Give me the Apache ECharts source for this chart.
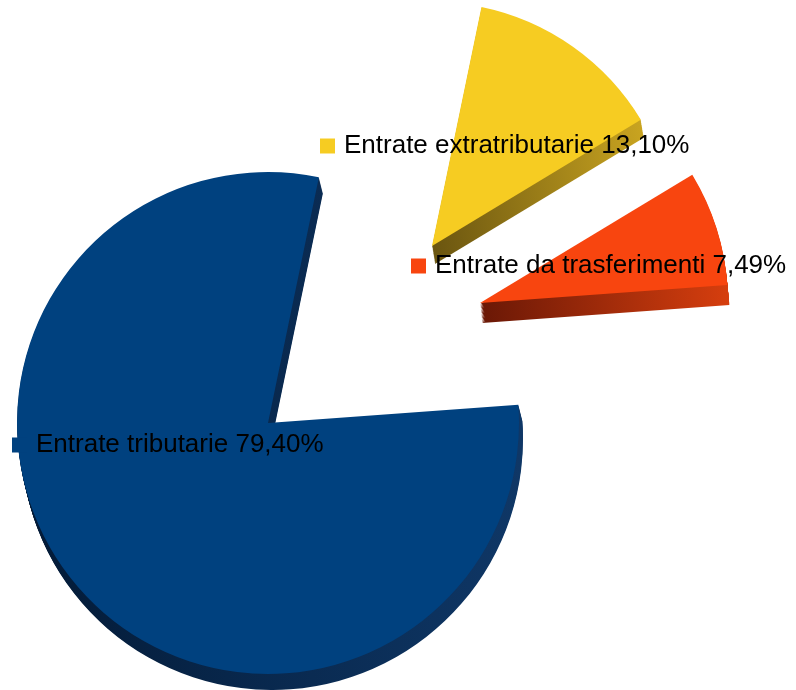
<!DOCTYPE html>
<html>
<head>
<meta charset="utf-8">
<script src="https://cdn.jsdelivr.net/npm/echarts@6/dist/echarts.min.js"></script>
<style>
html, body { margin: 0; padding: 0; background: #fff; }
#chart { width: 796px; height: 690px; }
</style>
</head>
<body>
<div id="chart"></div>
<script>
// dati
const categories = ['Entrate extratributarie', 'Entrate da trasferimenti', 'Entrate tributarie'];
const values = [13.10, 7.49, 79.40];

// aspetto (colori, posizioni delle fette esplose)
const topColors = ['#f6cc22', '#f8450f', '#00417f'];
const sideColors = [['#6a5510', '#c9a420'], ['#6a1806', '#d63e0e'], ['#031a36', '#0f3766']];
const centers = [[432, 246], [480, 303], [268, 423]];
const radii = [244, 248, 251];
const labelPos = [[320, 146], [411, 266], [12, 445]];
const depth = [[3, 18], [2, 20], [4, 16]];
const layers = 16;
const START = 78.3;

const fmt = v => v.toFixed(2).replace('.', ',') + '%';

function sliceData(idx, color, withLabel) {
  return values.map((v, i) => ({
    name: categories[i],
    value: v,
    itemStyle: { color: i === idx ? color : 'rgba(0,0,0,0)' },
    label: { show: withLabel && i === idx }
  }));
}

function baseSeries(idx, center) {
  return {
    type: 'pie',
    center: center,
    radius: [0, radii[idx]],
    startAngle: START,
    clockwise: true,
    avoidLabelOverlap: false,
    selectedMode: false,
    emphasis: { disabled: true },
    labelLine: { show: false },
    animation: false
  };
}

const series = [];
// blu prima, poi giallo, poi rosso
[2, 0, 1].forEach(idx => {
  const [cx, cy] = centers[idx];
  const [dx, dy] = depth[idx];
  // lato (spessore 3D) fatto con copie scure spostate verso il basso
  for (let k = layers; k >= 1; k--) {
    const grad = new echarts.graphic.LinearGradient(0, 0, 1, 0, [
      { offset: 0, color: sideColors[idx][0] },
      { offset: 1, color: sideColors[idx][1] }
    ]);
    series.push(Object.assign(baseSeries(idx, [cx + dx * k / layers, cy + dy * k / layers]), {
      silent: true,
      label: { show: false },
      data: sliceData(idx, grad, false)
    }));
  }
  // faccia superiore con etichetta
  series.push(Object.assign(baseSeries(idx, [cx, cy]), {
    label: {
      position: 'inside',
      formatter: p => `{m|}{t|${p.name} ${fmt(p.value)}}`,
      rich: {
        m: { width: 15, height: 15, backgroundColor: topColors[idx] },
        t: {
          fontFamily: 'Liberation Sans',
          fontSize: 26,
          lineHeight: 30,
          color: '#000',
          padding: [0, 0, 0, 9]
        }
      }
    },
    labelLayout: () => ({
      x: labelPos[idx][0],
      y: labelPos[idx][1],
      align: 'left',
      verticalAlign: 'middle'
    }),
    data: sliceData(idx, topColors[idx], true)
  }));
});

const chart = echarts.init(document.getElementById('chart'));
chart.setOption({
  backgroundColor: '#fff',
  animation: false,
  series: series
});
window.addEventListener('resize', () => chart.resize());
</script>
</body>
</html>
